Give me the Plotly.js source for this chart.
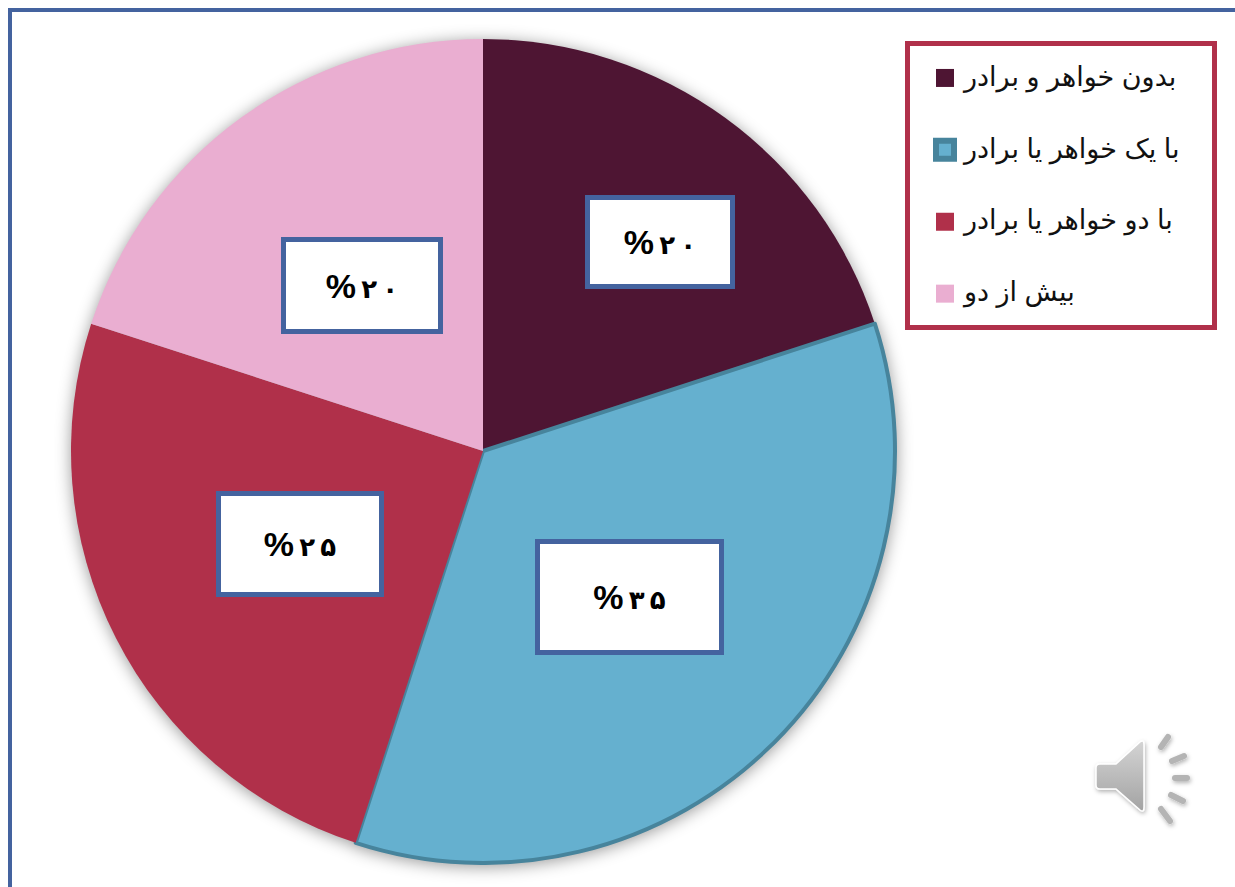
<!DOCTYPE html>
<html>
<head>
<meta charset="utf-8">
<script src="https://cdn.plot.ly/plotly-3.0.1.min.js"></script>
<style>
html,body{margin:0;padding:0;background:#fff;overflow:hidden}
#chart{width:1235px;height:887px}
.pielayer{filter:drop-shadow(0 2px 8px rgba(0,0,0,.4))}
</style>
</head>
<body>
<div id="chart"></div>
<script>
const categories = ["بدون خواهر و برادر", "با یک خواهر یا برادر", "با دو خواهر یا برادر", "بیش از دو"];
const values = [20, 35, 25, 20];
const sliceColors = ["#4E1533", "#65B0CF", "#B0304A", "#EAAED1"];
const sliceLineColors = ["#4E1533", "#47849C", "#B0304A", "#EAAED1"];
const sliceLineWidths = [0, 4, 0, 0];
const labelCenters = [[660, 242], [629, 597], [300, 544], [362, 285]];
const labelSizes = [[140, 84], [179, 106], [158, 96], [152, 87]];

const W = 1235, H = 887;
const px = v => v / W, py = v => 1 - v / H;
const fa = n => [...String(n)].map(d => "۰۱۲۳۴۵۶۷۸۹"[d]).join("\u2009");

const speaker = `<svg xmlns="http://www.w3.org/2000/svg" width="130" height="120" viewBox="0 0 130 120">
<defs><linearGradient id="g" x1="0" y1="0" x2="0" y2="1"><stop offset="0" stop-color="#d4d4d4"/><stop offset="1" stop-color="#a3a3a3"/></linearGradient>
<filter id="s" x="-20%" y="-20%" width="140%" height="140%"><feDropShadow dx="1" dy="2" stdDeviation="2" flood-color="#000" flood-opacity=".3"/></filter></defs>
<g filter="url(#s)" fill="url(#g)" stroke="#fff" stroke-width="1.5">
<path d="M20 44H36L60 22Q64 19 64 25V87Q64 93 60 90L36 69H20Q16 69 16 65V48Q16 44 20 44Z"/>
<g stroke-linecap="round" stroke="#b4b4b4" stroke-width="6" fill="none">
<path d="M81 27L88 17"/><path d="M92 41L104 36"/><path d="M95 58H107"/><path d="M91 75L103 81"/><path d="M81 89L90 101"/>
</g></g></svg>`;

const annotations = values.map((v, i) => ({
  text: `<span style="font-size:34px">%</span><span style="font-size:26px">\u2009${fa(v)}</span>`,
  xref: "paper", yref: "paper",
  x: px(labelCenters[i][0]), y: py(labelCenters[i][1]),
  xanchor: "center", yanchor: "middle",
  width: labelSizes[i][0], height: labelSizes[i][1],
  align: "center", valign: "middle",
  showarrow: false,
  bgcolor: "#ffffff", bordercolor: "#44639F", borderwidth: 5, borderpad: 0,
  font: {family: '"Liberation Sans","DejaVu Sans",sans-serif', size: 30, color: "#000", weight: 700}
}));

const trace = {
  type: "pie",
  labels: categories.map(c => `<span style="font-size:27px">${c}</span>`),
  values: values,
  sort: false,
  direction: "clockwise",
  rotation: 0,
  textinfo: "none",
  hoverinfo: "label+percent",
  marker: {colors: sliceColors, line: {color: sliceLineColors, width: sliceLineWidths}},
  domain: {x: [px(71), px(895)], y: [py(863), py(39)]}
};

const layout = {
  width: W, height: H,
  margin: {l: 0, r: 0, t: 0, b: 0},
  paper_bgcolor: "#fff",
  showlegend: true,
  legend: {
    x: px(905), y: py(32), xanchor: "left", yanchor: "top",
    bgcolor: "#ffffff", bordercolor: "#B0304A", borderwidth: 5,
    font: {family: '"Liberation Sans","DejaVu Sans",sans-serif', size: 53, color: "#111"}
  },
  shapes: [{type: "rect", xref: "paper", yref: "paper", x0: px(10), x1: px(1300), y0: py(10), y1: py(950),
            line: {color: "#44639F", width: 4}, fillcolor: "rgba(0,0,0,0)", layer: "below"}],
  images: [{source: "data:image/svg+xml;utf8," + encodeURIComponent(speaker),
            xref: "paper", yref: "paper", x: px(1080), y: py(720), sizex: 130 / W, sizey: 120 / H,
            xanchor: "left", yanchor: "top", sizing: "stretch", layer: "above"}],
  annotations: annotations
};

Plotly.newPlot("chart", [trace], layout, {displayModeBar: false}).then(() => {
  document.querySelectorAll(".legend .legendtext").forEach(t => t.setAttribute("transform", "translate(14,-13)"));
  document.querySelectorAll(".legend .legendpie").forEach(p => p.setAttribute("transform", "translate(15,0) " + p.getAttribute("transform") + " scale(1.5)"));
  const bg = document.querySelector(".legend .bg");
  const top = parseFloat(bg.getAttribute("y"));
  bg.setAttribute("y", top + 9);
  bg.setAttribute("height", 284);
  bg.setAttribute("width", 307);
  const box = document.querySelector(".legend .scrollbox");
  if (box) box.removeAttribute("clip-path");
});
</script>
</body>
</html>
